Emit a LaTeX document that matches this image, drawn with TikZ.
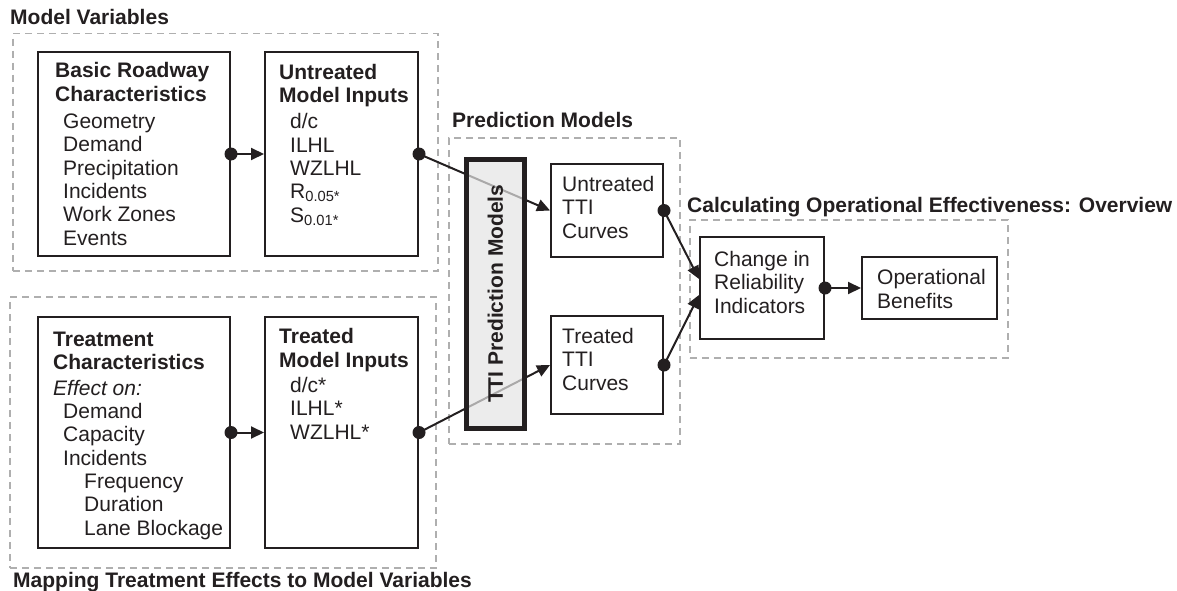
\documentclass[tikz,border=0pt]{standalone}
\usepackage{fontspec}
\setmainfont{Liberation Sans}
\usepackage{tikz}
\usetikzlibrary{arrows.meta,positioning}
\definecolor{myink}{RGB}{35,31,32}
\definecolor{mydash}{RGB}{175,175,175}
\definecolor{myfill}{RGB}{228,228,228}
\newcommand{\txtsize}{\fontsize{21}{23.3}\selectfont}

\begin{document}
\begin{tikzpicture}[x=1pt, y=-1pt, font=\txtsize, text=myink,
    grp/.style={draw=mydash, line width=1.5pt, dash pattern=on 7pt off 5pt,
                anchor=north west, inner sep=0pt},
    blk/.style={draw=myink, line width=2pt, anchor=north west, inner sep=0pt},
    lbl/.style={anchor=base west, inner sep=0pt, align=left},
    ttl/.style={anchor=base west, inner sep=0pt, font=\txtsize\bfseries},
    link/.style={draw=myink, line width=2pt,
                 -{Triangle[length=13pt,width=12pt]}}]
  \useasboundingbox (0,0) rectangle (1177,591);

  % groups and titles
  \node[grp, minimum width=425, minimum height=237](gmv) at (12,33){};
  \node[grp, minimum width=426, minimum height=271](gmt) at (9,296){};
  \node[grp, minimum width=231, minimum height=306](gpm) at (448,137){};
  \node[grp, minimum width=318, minimum height=138](gco) at (689,219){};
  \node[ttl](tmv) at (10,25){Model Variables};
  \node[ttl](tmt) at (13,587){Mapping Treatment Effects to Model Variables};
  \node[ttl](tpm) at (452,128){Prediction Models};
  \node[ttl](tco) at (687,212){Calculating Operational Effectiveness: Overview};

  % boxes
  \node[blk, minimum width=192, minimum height=204](brc) at (37,51){};
  \node[blk, minimum width=153, minimum height=204](umi) at (264,51){};
  \node[blk, minimum width=192, minimum height=231](tch) at (37,316){};
  \node[blk, minimum width=153, minimum height=231](tmi) at (264,316){};
  \node[blk, minimum width=112, minimum height=93](utc) at (550,163){};
  \node[blk, minimum width=112, minimum height=98](ttc) at (550,315){};
  \node[blk, minimum width=124, minimum height=102](cri) at (699,236){};
  \node[blk, minimum width=135, minimum height=62](obn) at (861,256){};

  % box texts (placed by the baseline of their last line)
  \node[lbl](brct) at (55,245){\textbf{Basic Roadway}\\
    \textbf{Characteristics}\\[4pt]
    \hspace*{8pt}Geometry\\ \hspace*{8pt}Demand\\ \hspace*{8pt}Precipitation\\
    \hspace*{8pt}Incidents\\ \hspace*{8pt}Work Zones\\ \hspace*{8pt}Events};
  \node[lbl](umit) at (279,222){\textbf{Untreated}\\
    \textbf{Model Inputs}\\[3pt]
    \hspace*{11pt}d/c\\ \hspace*{11pt}ILHL\\ \hspace*{11pt}WZLHL\\
    \hspace*{11pt}R\textsubscript{0.05*}\\ \hspace*{11pt}S\textsubscript{0.01*}};
  \node[lbl](tcht) at (53,535){\textbf{Treatment}\\
    \textbf{Characteristics}\\[2pt]
    \textit{Effect on:}\\ \hspace*{10pt}Demand\\ \hspace*{10pt}Capacity\\
    \hspace*{10pt}Incidents\\ \hspace*{31pt}Frequency\\
    \hspace*{31pt}Duration\\ \hspace*{31pt}Lane Blockage};
  \node[lbl](tmit) at (279,439){\textbf{Treated}\\
    \textbf{Model Inputs}\\[2pt]
    \hspace*{11pt}d/c*\\ \hspace*{11pt}ILHL*\\ \hspace*{11pt}WZLHL*};
  \node[lbl](utct) at (562,238){Untreated\\ TTI\\ Curves};
  \node[lbl](ttct) at (562,390){Treated\\ TTI\\ Curves};
  \node[lbl](crit) at (714,313){Change in\\ Reliability\\ Indicators};
  \node[lbl](obnt) at (877,308){Operational\\ Benefits};

  % connectors
  \draw[link] (brc.east) -- (umi.west);
  \draw[link] (tch.east) -- (tmi.west);
  \draw[link] (umi.east) -- (utc.west);
  \draw[link] (tmi.east) -- (ttc.west);
  \draw[link] (utc.east) -- ([yshift=9pt]cri.west);
  \draw[link] (ttc.east) -- ([yshift=-7pt]cri.west);
  \draw[link] (cri.east) -- (obn.west);
  \foreach \n in {brc,umi,tch,tmi,utc,ttc,cri}
    \fill[myink] (\n.east) circle (6.5);

  % prediction model block over the lines
  \node[draw=myink, fill=myfill, fill opacity=0.7, line width=4.5pt,
        anchor=north west, inner sep=0pt, minimum width=58,
        minimum height=269](tpb) at (464,157){};
  \node[rotate=90, inner sep=0pt, font=\txtsize\bfseries](tpbt) at (tpb.center)
       {TTI Prediction Models};
\end{tikzpicture}
\end{document}
